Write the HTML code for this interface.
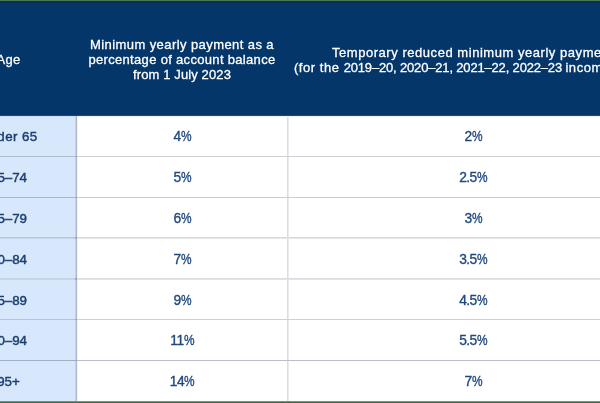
<!DOCTYPE html>
<html><head><meta charset="utf-8">
<style>
*{margin:0;padding:0;box-sizing:border-box}
html,body{width:600px;height:403px;overflow:hidden;background:#fff}
body{position:relative;font-family:"Liberation Sans",sans-serif;font-size:13.33px;line-height:15px}
.a{position:absolute;white-space:nowrap;will-change:transform}
.hd{color:#fff;-webkit-text-stroke:0.3px #fff;font-size:13px}
.ctr{text-align:center}
.c{color:#1f477f;text-align:center;-webkit-text-stroke:0.35px #1f477f;font-size:13.8px;letter-spacing:-0.55px}
.l{color:#1d3f6e;text-align:center;-webkit-text-stroke:0.45px #1d3f6e}
.d{letter-spacing:-0.17px}
.w{letter-spacing:0.54px}
.p{display:inline-block;transform:scaleX(.86);transform-origin:0 0;margin-right:-1.6px}
</style></head><body>
<div class="a" style="left:0;top:0;width:600px;height:1px;background:#4b7b52"></div>
<div class="a" style="left:0;top:1px;width:600px;height:1px;background:#28282f"></div>
<div class="a" style="left:0;top:2px;width:600px;height:1px;background:#0e2f58"></div>
<div class="a" style="left:0;top:3px;width:600px;height:112px;background:#04366a"></div>
<div class="a" style="left:0;top:115px;width:600px;height:1px;background:#1f4777"></div>
<div class="a" style="left:0;top:116px;width:76px;height:285px;background:#d8e8fc"></div>
<div class="a" style="left:75px;top:116px;width:1px;height:285px;background:#c6d2e2"></div>
<div class="a" style="left:76px;top:116px;width:1px;height:285px;background:#b1b9c6"></div>
<div class="a" style="left:77px;top:117px;width:1px;height:284px;background:#f4f4f6"></div>
<div class="a" style="left:287px;top:116px;width:1px;height:285px;background:#dddde3"></div>
<div class="a" style="left:288px;top:116px;width:1px;height:285px;background:#ebebef"></div>

<div class="a" style="left:77px;top:156px;width:523px;height:1px;background:#d0d1d6"></div>
<div class="a" style="left:0;top:156px;width:75px;height:1px;background:#b2bdcd"></div>
<div class="a" style="left:75px;top:156px;width:2px;height:1px;background:#95a6bd"></div>
<div class="a" style="left:77px;top:197px;width:523px;height:1px;background:#c9cdd5"></div>
<div class="a" style="left:0;top:197px;width:75px;height:1px;background:#a9b7cb"></div>
<div class="a" style="left:75px;top:197px;width:2px;height:1px;background:#95a6bd"></div>
<div class="a" style="left:77px;top:237px;width:523px;height:1px;background:#d8dade"></div>
<div class="a" style="left:0;top:237px;width:75px;height:1px;background:#bcc6d6"></div>
<div class="a" style="left:75px;top:237px;width:2px;height:1px;background:#95a6bd"></div>
<div class="a" style="left:77px;top:238px;width:523px;height:1px;background:#e6e7ea"></div>
<div class="a" style="left:0;top:238px;width:75px;height:1px;background:#c8d4e6"></div>
<div class="a" style="left:75px;top:238px;width:2px;height:1px;background:#95a6bd"></div>
<div class="a" style="left:77px;top:278px;width:523px;height:1px;background:#dcdde2"></div>
<div class="a" style="left:0;top:278px;width:75px;height:1px;background:#c4d3e6"></div>
<div class="a" style="left:75px;top:278px;width:2px;height:1px;background:#95a6bd"></div>
<div class="a" style="left:77px;top:279px;width:523px;height:1px;background:#e2e3e6"></div>
<div class="a" style="left:0;top:279px;width:75px;height:1px;background:#c8d6e8"></div>
<div class="a" style="left:75px;top:279px;width:2px;height:1px;background:#95a6bd"></div>
<div class="a" style="left:77px;top:319px;width:523px;height:1px;background:#cfd1d6"></div>
<div class="a" style="left:0;top:319px;width:75px;height:1px;background:#bcc2cc"></div>
<div class="a" style="left:75px;top:319px;width:2px;height:1px;background:#95a6bd"></div>
<div class="a" style="left:77px;top:360px;width:523px;height:1px;background:#b9bfca"></div>
<div class="a" style="left:0;top:360px;width:75px;height:1px;background:#a0b0c6"></div>
<div class="a" style="left:75px;top:360px;width:2px;height:1px;background:#95a6bd"></div>
<div class="a" style="left:0;top:116px;width:75px;height:1px;background:#cddbed"></div>
<div class="a" style="left:77px;top:116px;width:523px;height:1px;background:#eef0f3"></div>
<div class="a" style="left:0;top:401px;width:600px;height:1px;background:#88888e"></div>
<div class="a" style="left:0;top:402px;width:600px;height:1px;background:#3f6b43"></div>
<div class="a hd ctr" style="left:-60px;width:137px;top:52.0px;letter-spacing:0.3px">Age</div>
<div class="a hd ctr" style="left:82px;width:200px;top:36.5px;letter-spacing:0.42px">Minimum yearly payment as a</div>
<div class="a hd ctr" style="left:82px;width:200px;top:51.6px;letter-spacing:0.32px">percentage of account balance</div>
<div class="a hd ctr" style="left:82px;width:200px;top:66.7px;letter-spacing:0.12px">from 1 July 2023</div>
<div class="a hd" style="left:332px;top:44.6px;letter-spacing:0.54px">Temporary reduced minimum yearly payment</div>
<div class="a hd" style="left:293.5px;top:59.5px"><span class="w">(for the </span><span class="d">2019–20, 2020–21, 2021–22, 2022–23 </span><span class="w">income years)</span></div>
<div class="a l" style="left:-60px;width:137px;top:128.9px;letter-spacing:0.4px;">Under 65</div>
<div class="a c" style="left:77px;width:210px;top:128.7px">4<span class="p">%</span></div>
<div class="a c" style="left:289px;width:368px;top:128.7px">2<span class="p">%</span></div>
<div class="a l" style="left:-60px;width:137px;top:169.9px;">65–74</div>
<div class="a c" style="left:77px;width:210px;top:169.7px">5<span class="p">%</span></div>
<div class="a c" style="left:289px;width:368px;top:169.7px">2.5<span class="p">%</span></div>
<div class="a l" style="left:-60px;width:137px;top:210.9px;">75–79</div>
<div class="a c" style="left:77px;width:210px;top:210.7px">6<span class="p">%</span></div>
<div class="a c" style="left:289px;width:368px;top:210.7px">3<span class="p">%</span></div>
<div class="a l" style="left:-60px;width:137px;top:251.9px;">80–84</div>
<div class="a c" style="left:77px;width:210px;top:251.7px">7<span class="p">%</span></div>
<div class="a c" style="left:289px;width:368px;top:251.7px">3.5<span class="p">%</span></div>
<div class="a l" style="left:-60px;width:137px;top:292.9px;">85–89</div>
<div class="a c" style="left:77px;width:210px;top:292.7px">9<span class="p">%</span></div>
<div class="a c" style="left:289px;width:368px;top:292.7px">4.5<span class="p">%</span></div>
<div class="a l" style="left:-60px;width:137px;top:332.9px;">90–94</div>
<div class="a c" style="left:77px;width:210px;top:332.7px">11<span class="p">%</span></div>
<div class="a c" style="left:289px;width:368px;top:332.7px">5.5<span class="p">%</span></div>
<div class="a l" style="left:-60px;width:137px;top:373.9px;">95+</div>
<div class="a c" style="left:77px;width:210px;top:373.7px">14<span class="p">%</span></div>
<div class="a c" style="left:289px;width:368px;top:373.7px">7<span class="p">%</span></div>
</body></html>
